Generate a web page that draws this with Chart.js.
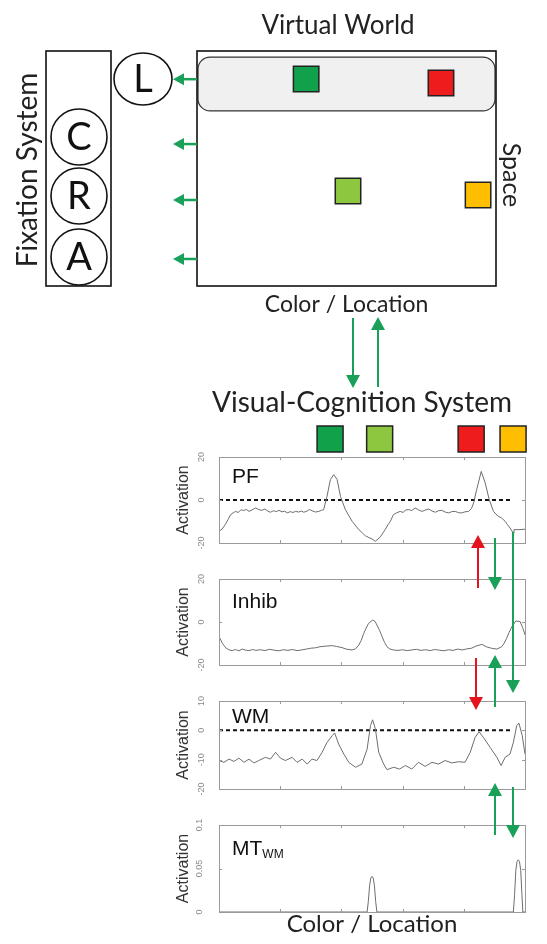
<!DOCTYPE html>
<html>
<head>
<meta charset="utf-8">
<script src="https://cdn.jsdelivr.net/npm/chart.js@4"></script>
<style>
body { margin: 0; background: #fff; }
#page { position: relative; width: 547px; height: 944px; overflow: hidden; background: #fff; }
#page canvas { position: absolute; left: 0; }
</style>
</head>
<body>
<div id="page">
  <canvas id="worldChart" width="547" height="320" style="top:0"></canvas>
  <canvas id="pfChart" width="547" height="245" style="top:315px"></canvas>
  <canvas id="inhibChart" width="547" height="130" style="top:550px"></canvas>
  <canvas id="wmChart" width="547" height="130" style="top:672px"></canvas>
  <canvas id="mtChart" width="547" height="149" style="top:795px"></canvas>
  <canvas id="arrowLayer" width="547" height="944" style="top:0"></canvas>
</div>
<script>
// Visual-cognition figure: virtual world + four neural field traces

// Virtual world items (colour / location, space)
const worldLoc = [36.5, 81.6, 50.5, 94.0];
const worldSpace = [11.9, 13.6, 59.6, 61.3];
const worldColors = ['#12a14b', '#ee1c1c', '#8dc63f', '#ffbf00'];
const fixationRows = [12, 39.6, 63.4, 88.5];
const fixationLabels = ['L', 'C', 'R', 'A'];

// Feature cues above the fields
const cueLoc = [36.3, 52.5, 82.4, 96.1];
const cueColors = ['#12a14b', '#8dc63f', '#ee1c1c', '#ffbf00'];

// Field activations
const pfLoc = [0, 1, 2, 3, 3.8, 4.6, 5.4, 6.3, 7.2, 8, 9, 9.8, 10.8, 12, 13, 14, 15, 16, 16.8, 17.8, 18.8, 19.6, 20.6, 21.5, 22.3, 23.3, 24.2, 25, 26, 27, 27.7, 28.7, 29.6, 30.4, 31.5, 32.6, 33.5, 34.2, 35.3, 36.4, 37.5, 38.6, 39.7, 41.3, 43.5, 45.7, 47, 47.8, 49, 50, 51.1, 52.7, 54.3, 55.2, 56, 57, 58, 59.2, 60.2, 61, 62, 63, 64.1, 65.2, 66.3, 67.4, 68.5, 69.6, 70.7, 71.7, 72.8, 73.9, 75, 76.1, 77.2, 78.3, 79.3, 80.4, 81.5, 82.5, 83.2, 84.2, 85.7, 87, 88.3, 89.7, 90.5, 91.3, 92.4, 93.5, 94.3, 95.1, 96.2, 96.4, 98, 100];
const pfAct = [-14.6, -13.5, -11.5, -9, -6.8, -6, -5.3, -5.8, -4.5, -4.9, -4.4, -5.3, -4.6, -3.7, -4.5, -4.8, -4.2, -5.2, -5.7, -5.0, -5.4, -4.8, -5.5, -5.2, -6, -5.4, -5.8, -5.3, -5.6, -5.1, -5.7, -5.2, -4.4, -5, -5.6, -5.3, -4.8, -4.5, 1.7, 9.5, 11.8, 9.5, 1.7, -4.5, -9.9, -13.8, -15.5, -16.6, -17.5, -18.1, -19.2, -17.2, -13.8, -11.5, -9.9, -6.8, -6, -5.3, -5.8, -4.6, -4.5, -4.9, -3.7, -4.6, -5.3, -4.7, -4.2, -5.1, -5.7, -5.0, -4.8, -5.6, -6, -5.4, -5.3, -5.9, -6, -5.5, -5.3, -4.0, -1.4, 4.8, 13.3, 7.9, 0.2, -5.3, -6.6, -7.6, -8.4, -9.9, -11.5, -13, -15.5, -13.8, -13.8, -13.6];

const inhibLoc = [0, 1.1, 2.2, 3.3, 4.3, 5.4, 6.5, 7.6, 8.7, 9.8, 11, 12, 13.5, 15, 16.5, 18, 19.5, 21, 22.5, 24, 25.5, 27, 28.5, 30, 31.5, 33, 35, 37, 38.5, 40.2, 41.5, 43.5, 44.6, 45.7, 46.5, 47.3, 48.1, 48.9, 50.2, 51, 51.6, 52.5, 53.3, 54.1, 54.9, 55.9, 57, 58.5, 60, 61.5, 63, 64.5, 66, 67.5, 69, 70.5, 72, 73.5, 75, 76.5, 78, 79.5, 81, 82.5, 84, 85.9, 87.5, 89, 90.8, 92.4, 93.2, 94, 94.8, 95.7, 97, 98.4, 99.2, 100];
const inhibAct = [-6.8, -9.9, -12, -13, -13.3, -12.8, -13.4, -12.6, -13.1, -13.3, -12.8, -13.2, -12.9, -13.3, -12.7, -13.1, -13.4, -12.9, -13.2, -12.8, -13.3, -13, -12.6, -12.2, -12, -11.5, -11.2, -11, -11.4, -11.9, -12.6, -13, -12.5, -10.7, -8.5, -5.3, -2.8, -0.6, 0.9, 0.3, -1.4, -4, -6.8, -9.5, -11.5, -12.6, -13, -13.2, -12.9, -13.3, -13, -12.7, -13.2, -12.9, -13.3, -12.8, -13.1, -13.4, -12.9, -13.2, -12.6, -13, -12.5, -12.2, -11.2, -10.4, -11.6, -12.2, -12.6, -11.5, -9.8, -7.6, -4.8, -2.2, 0.5, 0.2, -2.5, -6];

const wmLoc = [0, 1.6, 3.3, 4.9, 6.5, 8.2, 9.8, 11.4, 13, 15.2, 16.8, 18.5, 20.1, 21.7, 23.9, 25.5, 27.2, 28.8, 30.4, 32, 33.7, 35.3, 37, 37.8, 39.1, 40.8, 42.4, 44.6, 46.7, 48.4, 49.5, 50.2, 51.1, 52.2, 53.8, 54.9, 57.1, 59, 60.9, 63, 65.2, 67.4, 69.6, 71.7, 73.9, 76.1, 78.3, 80.4, 82.1, 83.7, 85, 86.4, 88.6, 90.8, 92.2, 93.5, 95.1, 96.2, 97.3, 98, 99.1, 100];
const wmAct = [-10.3, -10.9, -9.8, -10.6, -9.5, -10.9, -9.8, -11.1, -10.3, -9.2, -9.8, -7.5, -9.5, -10.3, -9.2, -10.9, -9.8, -11.5, -9.8, -10.3, -7.5, -4.1, -1.8, -0.9, -4.7, -8.1, -10.9, -12.6, -11.5, -6.4, 1.6, 3.6, 0.5, -7.5, -11.5, -13.4, -12.6, -13.2, -12, -13.2, -10.9, -12.3, -10.9, -11.5, -10.3, -11.1, -10.7, -10.9, -7.5, -2.4, -0.5, -2.4, -5.8, -9.2, -12, -9.2, -8.1, -4.1, 1.6, 2.5, -1.8, -8.1];

const mtLoc = [0, 48.4, 48.8, 49.2, 49.6, 50, 50.4, 50.8, 51.2, 51.6, 96.2, 96.6, 97, 97.4, 97.8, 98.2, 98.6, 99, 99.3, 100];
const mtAct = [0, 0, 0.012, 0.03, 0.039, 0.041, 0.039, 0.03, 0.012, 0, 0, 0.02, 0.048, 0.058, 0.06, 0.058, 0.048, 0.02, 0, 0];

// Threshold lines
const zeroLoc = [0, 96];
const zeroAct = [0, 0];

// Axis ticks
const xTicks = [0, 20, 40, 60, 80, 100];
const pfTicks = [-20, 0, 20];
const inhibTicks = [-20, 0, 20];
const wmTicks = [-20, -10, 0, 10];
const mtTicks = [0, 0.05, 0.1];

const GREEN = '#19a15a';
const RED = '#e3141d';
const DIAGRAM_FONT = 'Lato, "Open Sans", sans-serif';
const PLOT_FONT = '"Liberation Sans", Arial, sans-serif';

function toPoints(xs, ys) {
    return xs.map((x, i) => ({ x: x, y: ys[i] }));
}

function drawArrow(ctx, x1, y1, x2, y2, color, headLen, headW, lw) {
    const ang = Math.atan2(y2 - y1, x2 - x1);
    const bx = x2 - Math.cos(ang) * headLen;
    const by = y2 - Math.sin(ang) * headLen;
    ctx.save();
    ctx.strokeStyle = color;
    ctx.fillStyle = color;
    ctx.lineWidth = lw;
    ctx.beginPath();
    ctx.moveTo(x1, y1);
    ctx.lineTo(bx, by);
    ctx.stroke();
    ctx.beginPath();
    ctx.moveTo(x2, y2);
    ctx.lineTo(bx + Math.sin(ang) * headW, by - Math.cos(ang) * headW);
    ctx.lineTo(bx - Math.sin(ang) * headW, by + Math.cos(ang) * headW);
    ctx.closePath();
    ctx.fill();
    ctx.restore();
}

function rotatedText(ctx, text, x, y, angle, font, color) {
    ctx.save();
    ctx.translate(x, y);
    ctx.rotate(angle);
    ctx.font = font;
    ctx.fillStyle = color;
    ctx.textAlign = 'center';
    ctx.textBaseline = 'middle';
    ctx.fillText(text, 0, 0);
    ctx.restore();
}

// Virtual world panel: frame, highlighted row, fixation system
const worldPlugin = {
    id: 'worldDecor',
    beforeDatasetsDraw(chart) {
        const { ctx, chartArea: a, scales: { y } } = chart;
        ctx.save();
        // highlighted (looked-at) row
        const t = y.getPixelForValue(2.6), b = y.getPixelForValue(25.5);
        ctx.beginPath();
        ctx.roundRect(a.left + 1, t, a.right - a.left - 2, b - t, 12);
        ctx.fillStyle = '#f0f0f0';
        ctx.fill();
        ctx.strokeStyle = '#333';
        ctx.lineWidth = 1.2;
        ctx.stroke();
        ctx.lineWidth = 1.6;
        ctx.strokeStyle = '#111';
        ctx.strokeRect(a.left, a.top, a.right - a.left, a.bottom - a.top);
        ctx.restore();
    },
    afterDraw(chart) {
        const { ctx, chartArea: a, scales: { y } } = chart;
        ctx.save();
        ctx.fillStyle = '#222';
        ctx.textAlign = 'center';
        ctx.textBaseline = 'middle';
        ctx.font = '26px ' + DIAGRAM_FONT;
        ctx.fillText('Virtual World', 338, 26);
        ctx.font = '23px ' + DIAGRAM_FONT;
        ctx.fillText('Color / Location', (a.left + a.right) / 2, a.bottom + 19);
        rotatedText(ctx, 'Space', a.right + 15, 175, Math.PI / 2, '25px ' + DIAGRAM_FONT, '#222');
        rotatedText(ctx, 'Fixation System', 28, 170, -Math.PI / 2, '28px ' + DIAGRAM_FONT, '#222');

        // fixation system box and nodes
        ctx.strokeStyle = '#111';
        ctx.lineWidth = 1.6;
        ctx.strokeRect(46, a.top, 65, a.bottom - a.top);
        const nodes = [[143, 79, 29, 26], [79, 137, 28, 28], [79, 196, 28, 28], [79, 257, 28, 28]];
        nodes.forEach((n, i) => {
            ctx.beginPath();
            ctx.ellipse(n[0], n[1], n[2], n[3], 0, 0, Math.PI * 2);
            ctx.fillStyle = '#fff';
            ctx.fill();
            ctx.stroke();
            ctx.fillStyle = '#111';
            ctx.font = '38px ' + DIAGRAM_FONT;
            ctx.fillText(fixationLabels[i], n[0], n[1] + 1);
        });
        fixationRows.forEach(r => {
            const py = y.getPixelForValue(r);
            drawArrow(ctx, a.left, py, a.left - 24, py, GREEN, 11, 6, 2.5);
        });
        ctx.restore();
    }
};

new Chart(document.getElementById('worldChart'), {
    type: 'scatter',
    data: {
        datasets: [{
            data: toPoints(worldLoc, worldSpace),
            pointStyle: 'rect',
            pointRadius: 18,
            backgroundColor: worldColors,
            borderColor: '#222',
            borderWidth: 1.5
        }]
    },
    options: {
        responsive: false,
        animation: false,
        events: [],
        layout: { padding: { left: 197, right: 51, top: 51, bottom: 34 } },
        plugins: { legend: { display: false }, tooltip: { enabled: false } },
        scales: {
            x: { type: 'linear', min: 0, max: 100, display: false },
            y: { type: 'linear', min: 0, max: 100, reverse: true, display: false }
        }
    },
    plugins: [worldPlugin]
});

// Field panels: frame, inward ticks, panel label
const panelPlugin = {
    id: 'panel',
    afterDatasetsDraw(chart, args, opts) {
        const { ctx, chartArea: a, scales: { x, y } } = chart;
        ctx.save();
        ctx.strokeStyle = '#9a9a9a';
        ctx.lineWidth = 1;
        ctx.strokeRect(a.left + 0.5, a.top + 0.5, a.right - a.left, a.bottom - a.top);
        ctx.beginPath();
        xTicks.forEach(v => {
            const px = Math.round(x.getPixelForValue(v)) + 0.5;
            ctx.moveTo(px, a.top); ctx.lineTo(px, a.top + 3);
            ctx.moveTo(px, a.bottom); ctx.lineTo(px, a.bottom - 3);
        });
        y.ticks.forEach(t => {
            const py = Math.round(y.getPixelForValue(t.value)) + 0.5;
            ctx.moveTo(a.left, py); ctx.lineTo(a.left + 3, py);
            ctx.moveTo(a.right, py); ctx.lineTo(a.right - 3, py);
        });
        ctx.stroke();

        ctx.fillStyle = '#111';
        ctx.textBaseline = 'alphabetic';
        ctx.textAlign = 'left';
        ctx.font = '21px ' + PLOT_FONT;
        ctx.fillText(opts.label, a.left + 13, a.top + opts.labelY);
        if (opts.sub) {
            const w = ctx.measureText(opts.label).width;
            ctx.font = '12px ' + PLOT_FONT;
            ctx.fillText(opts.sub, a.left + 13 + w, a.top + opts.labelY + 3);
        }

        if (opts.cues) {
            ctx.font = '28px ' + DIAGRAM_FONT;
            ctx.textAlign = 'center';
            ctx.textBaseline = 'middle';
            ctx.fillStyle = '#222';
            ctx.fillText('Visual-Cognition System', 362, a.top - 54);
            cueLoc.forEach((v, i) => {
                const px = x.getPixelForValue(v);
                ctx.fillStyle = cueColors[i];
                ctx.fillRect(px - 13, a.top - 31, 26, 26);
                ctx.strokeStyle = '#222';
                ctx.lineWidth = 1.5;
                ctx.strokeRect(px - 13, a.top - 31, 26, 26);
            });
        }
        ctx.restore();
    }
};

function makeField(id, cfg) {
    const datasets = [{
        data: toPoints(cfg.loc, cfg.act),
        borderColor: '#6e6e6e',
        borderWidth: 1,
        pointRadius: 0,
        tension: 0
    }];
    if (cfg.threshold) {
        datasets.push({
            data: toPoints(zeroLoc, zeroAct),
            borderColor: '#111',
            borderWidth: 2,
            borderDash: [4, 3],
            pointRadius: 0
        });
    }
    return new Chart(document.getElementById(id), {
        type: 'line',
        data: { datasets: datasets },
        options: {
            responsive: false,
            animation: false,
            events: [],
            layout: { padding: { left: 169, right: 22, top: cfg.padTop, bottom: cfg.padBottom } },
            plugins: {
                legend: { display: false },
                tooltip: { enabled: false },
                panel: { label: cfg.label, sub: cfg.sub, labelY: cfg.labelY, cues: cfg.cues }
            },
            scales: {
                x: {
                    type: 'linear',
                    min: 0,
                    max: 100,
                    display: !!cfg.xTitle,
                    grid: { display: false },
                    border: { display: false },
                    ticks: { display: false },
                    title: {
                        display: !!cfg.xTitle,
                        text: 'Color / Location',
                        color: '#222',
                        font: { family: 'Lato', size: 24 },
                        padding: { top: 0, bottom: 5 }
                    },
                    afterFit: s => { s.height = cfg.xTitle ? 32 : 0; }
                },
                y: {
                    type: 'linear',
                    min: cfg.ticks[0],
                    max: cfg.ticks[cfg.ticks.length - 1],
                    grid: { display: false },
                    border: { display: false },
                    afterBuildTicks: s => { s.ticks = cfg.ticks.map(v => ({ value: v })); },
                    ticks: {
                        minRotation: 90,
                        maxRotation: 90,
                        crossAlign: 'center',
                        padding: 3,
                        color: '#8a8a8a',
                        font: { family: 'Liberation Sans', size: 9 },
                        callback: v => String(+v.toFixed(2))
                    },
                    title: {
                        display: true,
                        text: 'Activation',
                        color: '#333',
                        font: { family: 'Liberation Sans', size: 16 },
                        padding: { top: 5, bottom: 0 }
                    },
                    afterFit: s => { s.width = 50; }
                }
            }
        },
        plugins: [panelPlugin]
    });
}

makeField('pfChart', { loc: pfLoc, act: pfAct, ticks: pfTicks, threshold: true, label: 'PF', labelY: 26, cues: true, padTop: 142, padBottom: 17 });
makeField('inhibChart', { loc: inhibLoc, act: inhibAct, ticks: inhibTicks, label: 'Inhib', labelY: 29, padTop: 29, padBottom: 15 });
makeField('wmChart', { loc: wmLoc, act: wmAct, ticks: wmTicks, threshold: true, label: 'WM', labelY: 22, padTop: 29, padBottom: 13 });
makeField('mtChart', { loc: mtLoc, act: mtAct, ticks: mtTicks, label: 'MT', sub: 'WM', labelY: 30, xTitle: true, padTop: 30, padBottom: 0 });

// Coupling arrows between the systems
const arrowCtx = document.getElementById('arrowLayer').getContext('2d');
const couplings = [
    [353, 318, 388, GREEN],
    [378, 387, 317, GREEN],
    [478, 588, 535, RED],
    [495, 538, 590, GREEN],
    [513, 532, 693, GREEN],
    [476, 658, 710, RED],
    [495, 707, 655, GREEN],
    [495, 835, 783, GREEN],
    [513, 787, 838, GREEN]
];
couplings.forEach(c => drawArrow(arrowCtx, c[0], c[1], c[0], c[2], c[3], 13, 7, 2));
</script>
</body>
</html>
